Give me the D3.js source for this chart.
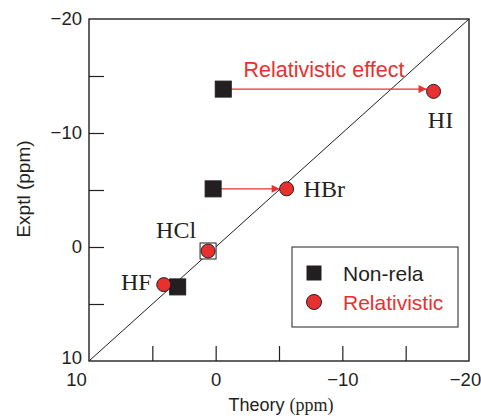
<!DOCTYPE html>
<html>
<head>
<meta charset="utf-8">
<script src="https://cdn.jsdelivr.net/npm/d3@7"></script>
<style>
  body { margin: 0; background: #fff; }
  .sans { font-family: "Liberation Sans", Arial, sans-serif; }
  .serif { font-family: "Liberation Serif", "Times New Roman", serif; }
</style>
</head>
<body>
<svg id="fig" width="481" height="418"></svg>
<script>
"use strict"
// molecules and shifts (ppm): theory vs experiment
var molecules = ["HI", "HBr", "HCl", "HF"];
var theoryNonRela = [-0.6, 0.2, 0.6, 3.0];
var exptlNonRela  = [-13.85, -5.1, 0.35, 3.5];
var theoryRela    = [-17.2, -5.6, 0.6, 4.1];
var exptlRela     = [-13.65, -5.1, 0.35, 3.3];
var openSquare    = [false, false, true, false];
var arrowFor      = ["HI", "HBr"];
var axisTicks     = [-15, -10, -5, 0, 5];
var axisLabels    = [-20, -10, 0, 10];
var legendNames   = ["Non-rela", "Relativistic"];

var RED = "#e8312f", DARK = "#231f20";

var svg = d3.select("svg#fig");

var x = d3.scaleLinear().domain([10, -20]).range([89, 469]);
var y = d3.scaleLinear().domain([-20, 10]).range([19, 361]);

var defs = svg.append("defs");
defs.append("marker")
    .attr("id", "head")
    .attr("viewBox", "0 0 10 10")
    .attr("refX", 10).attr("refY", 5)
    .attr("markerWidth", 10).attr("markerHeight", 8)
    .attr("markerUnits", "userSpaceOnUse")
    .attr("orient", "auto")
  .append("path")
    .attr("d", "M0,0L10,5L0,10Z")
    .attr("fill", RED);

// tick marks pointing inward
svg.append("g")
    .attr("transform", "translate(0," + y(10) + ")")
    .call(d3.axisBottom(x).tickValues(axisTicks).tickSize(-15).tickFormat(""))
    .call(function(g) { g.select(".domain").remove(); g.selectAll("line").attr("stroke", DARK).attr("stroke-width", 1.2); });

svg.append("g")
    .attr("transform", "translate(" + x(10) + ",0)")
    .call(d3.axisLeft(y).tickValues(axisTicks).tickSize(-15).tickFormat(""))
    .call(function(g) { g.select(".domain").remove(); g.selectAll("line").attr("stroke", DARK).attr("stroke-width", 1.2); });

// tick labels
var xShift = { "10": -13, "-20": -4 };
svg.append("g")
    .attr("transform", "translate(0," + (y(10) + 2) + ")")
    .call(d3.axisBottom(x).tickValues(axisLabels).tickSize(0).tickPadding(10))
    .call(function(g) {
      g.select(".domain").remove();
      g.selectAll("text").attr("class", "sans").attr("font-size", 18.5).attr("fill", DARK)
        .attr("dx", function(d) { return xShift[d] || 0; });
    });

var yShift = { "10": -3 };
svg.append("g")
    .attr("transform", "translate(" + (x(10) - 5) + ",0)")
    .call(d3.axisLeft(y).tickValues(axisLabels).tickSize(0).tickPadding(2))
    .call(function(g) {
      g.select(".domain").remove();
      g.selectAll("text").attr("class", "sans").attr("font-size", 18.5).attr("fill", DARK)
        .attr("y", function(d) { return yShift[d] || 0; });
    });

// frame
svg.append("rect")
    .attr("x", x(10)).attr("y", y(-20))
    .attr("width", x(-20) - x(10)).attr("height", y(10) - y(-20))
    .attr("fill", "none").attr("stroke", DARK).attr("stroke-width", 1.4);

// diagonal
svg.append("line")
    .attr("x1", x(10)).attr("y1", y(10))
    .attr("x2", x(-20)).attr("y2", y(-20))
    .attr("stroke", DARK).attr("stroke-width", 1);

// axis titles
var xt = svg.append("text")
    .attr("x", 281).attr("y", 411)
    .attr("text-anchor", "middle")
    .attr("fill", DARK);
xt.append("tspan").attr("class", "sans").attr("font-size", 18).text("Theory ");
xt.append("tspan").attr("class", "serif").attr("font-size", 18).text("(ppm)");

svg.append("text")
    .attr("class", "sans")
    .attr("transform", "translate(30,189) rotate(-90)")
    .attr("text-anchor", "middle")
    .attr("font-size", 19)
    .attr("fill", DARK)
    .text("Exptl (ppm)");

var pts = molecules.map(function(m, i) {
  return { name: m, tn: theoryNonRela[i], en: exptlNonRela[i], tr: theoryRela[i], er: exptlRela[i], open: openSquare[i] };
});

// arrows for relativistic effect
svg.append("g").selectAll("line")
    .data(pts.filter(function(d) { return arrowFor.indexOf(d.name) >= 0; }))
  .enter().append("line")
    .attr("x1", function(d) { return x(d.tn) + 8; })
    .attr("y1", function(d) { return y(d.en); })
    .attr("x2", function(d) { return x(d.tr) - 7; })
    .attr("y2", function(d) { return y(d.en); })
    .attr("stroke", RED).attr("stroke-width", 1.2)
    .attr("marker-end", "url(#head)");

svg.append("text")
    .attr("class", "sans")
    .attr("x", 324).attr("y", 77)
    .attr("text-anchor", "middle")
    .attr("font-size", 21.5)
    .attr("fill", RED)
    .text("Relativistic effect");

// non-relativistic squares
svg.append("g").selectAll("rect")
    .data(pts)
  .enter().append("rect")
    .attr("x", function(d) { return x(d.tn) - 8; })
    .attr("y", function(d) { return y(d.en) - 8; })
    .attr("width", 16).attr("height", 16)
    .attr("fill", function(d) { return d.open ? "#fff" : DARK; })
    .attr("stroke", DARK).attr("stroke-width", 1);

// relativistic circles
svg.append("g").selectAll("circle")
    .data(pts)
  .enter().append("circle")
    .attr("cx", function(d) { return x(d.tr); })
    .attr("cy", function(d) { return y(d.er); })
    .attr("r", 7)
    .attr("fill", RED)
    .attr("stroke", DARK).attr("stroke-width", 1);

// molecule labels
var labelPos = { HI: [7, 37, "middle"], HBr: [17, 8, "start"], HCl: [-12, -13, "end"], HF: [-12, 5, "end"] };
svg.append("g").selectAll("text")
    .data(pts)
  .enter().append("text")
    .attr("class", "serif")
    .attr("x", function(d) { return x(d.tr) + labelPos[d.name][0]; })
    .attr("y", function(d) { return y(d.er) + labelPos[d.name][1]; })
    .attr("text-anchor", function(d) { return labelPos[d.name][2]; })
    .attr("font-size", 24)
    .attr("fill", DARK)
    .text(function(d) { return d.name; });

// legend
var lg = svg.append("g").attr("transform", "translate(292,247)");
lg.append("rect")
    .attr("width", 166).attr("height", 80)
    .attr("fill", "#fff").attr("stroke", DARK).attr("stroke-width", 1);
var items = lg.selectAll("g.item")
    .data(legendNames)
  .enter().append("g")
    .attr("class", "item")
    .attr("transform", function(d, i) { return "translate(22," + (26 + i * 29) + ")"; });
items.filter(function(d, i) { return i === 0; }).append("rect")
    .attr("x", -7.5).attr("y", -7.5).attr("width", 15).attr("height", 15)
    .attr("fill", DARK);
items.filter(function(d, i) { return i === 1; }).append("circle")
    .attr("r", 7.5).attr("fill", RED).attr("stroke", DARK).attr("stroke-width", 1);
items.append("text")
    .attr("class", "sans")
    .attr("x", 29).attr("y", 7.5)
    .attr("font-size", 21)
    .attr("fill", function(d, i) { return i === 0 ? DARK : RED; })
    .text(function(d) { return d; });
</script>
</body>
</html>
